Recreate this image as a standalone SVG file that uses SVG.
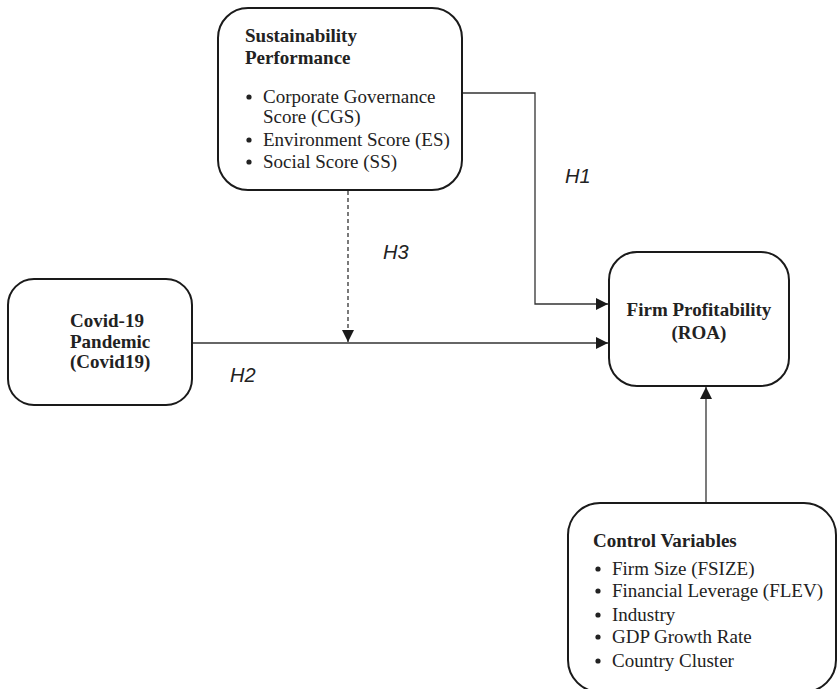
<svg xmlns="http://www.w3.org/2000/svg" width="838" height="689" viewBox="0 0 838 689">
<style>
.box{fill:#fff;stroke:#1a1a1a;stroke-width:2}
.t{font-family:"Liberation Serif","Times New Roman",serif;font-size:19px;fill:#222}
.b{font-weight:bold}
.h{font-family:"Liberation Sans",Arial,sans-serif;font-style:italic;font-size:20px;fill:#222}
.c{fill:none;stroke:#333;stroke-width:1.3}
.d{stroke-dasharray:4 3}
.dot{fill:#222}
</style>
<defs>
<marker id="arr" viewBox="0 0 12 12" refX="12" refY="6" markerWidth="12" markerHeight="12" markerUnits="userSpaceOnUse" orient="auto">
<path d="M0,0 L12,6 L0,12 Z" fill="#1a1a1a"/>
</marker>
</defs>
<rect width="838" height="689" fill="#fff"/>
<g id="connectors">
<polyline class="c" points="462,93 535,93 535,304 608,304" marker-end="url(#arr)"/>
<line class="c" x1="192" y1="343" x2="608" y2="343" marker-end="url(#arr)"/>
<line class="c d" x1="348" y1="191" x2="348" y2="342" marker-end="url(#arr)"/>
<line class="c" x1="706" y1="503" x2="706" y2="387" marker-end="url(#arr)"/>
<text class="h" x="565" y="183">H1</text>
<text class="h" x="230" y="382">H2</text>
<text class="h" x="383" y="259">H3</text>
</g>
<g id="sustainability">
<rect class="box" x="218" y="8" width="244" height="182" rx="30"/>
<text class="t b" x="245" y="42">Sustainability</text>
<text class="t b" x="245" y="64">Performance</text>
<circle class="dot" cx="249" cy="97" r="2.6"/>
<text class="t" x="263" y="103">Corporate Governance</text>
<text class="t" x="263" y="123">Score (CGS)</text>
<circle class="dot" cx="249" cy="140" r="2.6"/>
<text class="t" x="263" y="146">Environment Score (ES)</text>
<circle class="dot" cx="249" cy="162" r="2.6"/>
<text class="t" x="263" y="168">Social Score (SS)</text>
</g>
<g id="covid">
<rect class="box" x="8" y="279" width="184" height="126" rx="26"/>
<text class="t b" x="70" y="327">Covid-19</text>
<text class="t b" x="70" y="348">Pandemic</text>
<text class="t b" x="70" y="368">(Covid19)</text>
</g>
<g id="firm">
<rect class="box" x="609" y="252" width="180" height="134" rx="28"/>
<text class="t b" x="699" y="316" text-anchor="middle">Firm Profitability</text>
<text class="t b" x="699" y="339" text-anchor="middle">(ROA)</text>
</g>
<g id="control">
<rect class="box" x="568" y="503" width="268" height="189" rx="32"/>
<text class="t b" x="593" y="547">Control Variables</text>
<circle class="dot" cx="598" cy="569" r="2.6"/>
<text class="t" x="612" y="575">Firm Size (FSIZE)</text>
<circle class="dot" cx="598" cy="591" r="2.6"/>
<text class="t" x="612" y="597">Financial Leverage (FLEV)</text>
<circle class="dot" cx="598" cy="615" r="2.6"/>
<text class="t" x="612" y="621">Industry</text>
<circle class="dot" cx="598" cy="637" r="2.6"/>
<text class="t" x="612" y="643">GDP Growth Rate</text>
<circle class="dot" cx="598" cy="661" r="2.6"/>
<text class="t" x="612" y="667">Country Cluster</text>
</g>
</svg>
